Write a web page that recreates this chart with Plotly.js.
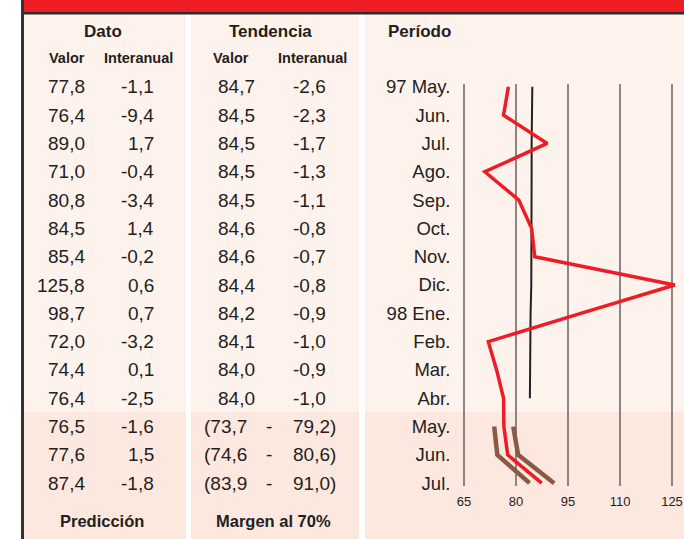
<!DOCTYPE html>
<html>
<head>
<meta charset="utf-8">
<script src="https://cdn.plot.ly/plotly-3.0.1.min.js"></script>
<style>
  html, body { margin: 0; padding: 0; background: #fff; }
  #chart { width: 684px; height: 539px; }
</style>
</head>
<body>
<div id="chart"></div>
<script>
'use strict';

const periods = ['97 May.', 'Jun.', 'Jul.', 'Ago.', 'Sep.', 'Oct.', 'Nov.', 'Dic.',
    '98 Ene.', 'Feb.', 'Mar.', 'Abr.', 'May.', 'Jun.', 'Jul.'];
const datoValor = [77.8, 76.4, 89.0, 71.0, 80.8, 84.5, 85.4, 125.8, 98.7, 72.0, 74.4, 76.4, 76.5, 77.6, 87.4];
const datoInter = [-1.1, -9.4, 1.7, -0.4, -3.4, 1.4, -0.2, 0.6, 0.7, -3.2, 0.1, -2.5, -1.6, 1.5, -1.8];
const tendValor = [84.7, 84.5, 84.5, 84.5, 84.5, 84.6, 84.6, 84.4, 84.2, 84.1, 84.0, 84.0];
const tendInter = [-2.6, -2.3, -1.7, -1.3, -1.1, -0.8, -0.7, -0.8, -0.9, -1.0, -0.9, -1.0];
const margenLow = [73.7, 74.6, 83.9];
const margenHigh = [79.2, 80.6, 91.0];
const xTicks = [65, 80, 95, 110, 125];

const W = 684, H = 539;
const FONT = 'Liberation Sans, Arial, Helvetica, sans-serif';
const INK = '#231f20';

// pixel helpers for paper coords (margins are 0)
const px = v => v / W;
const py = v => 1 - v / H;
const fmt = v => v.toFixed(1).replace('.', ',');

const rows = periods.map((p, i) => i);
const predStart = tendValor.length;
const predRows = margenLow.map((v, i) => predStart + i);

const tendTrace = {
    x: tendValor,
    y: rows.slice(0, tendValor.length),
    type: 'scatter',
    mode: 'lines',
    line: { color: INK, width: 2 },
    hoverinfo: 'skip'
};

const lowTrace = {
    x: margenLow,
    y: predRows,
    type: 'scatter',
    mode: 'lines',
    line: { color: '#8a5a45', width: 4.5 },
    hoverinfo: 'skip'
};

const highTrace = {
    x: margenHigh,
    y: predRows,
    type: 'scatter',
    mode: 'lines',
    line: { color: '#8a5a45', width: 4.5 },
    hoverinfo: 'skip'
};

const datoTrace = {
    x: datoValor,
    y: rows,
    type: 'scatter',
    mode: 'lines',
    line: { color: '#ee1c25', width: 3.5 },
    hoverinfo: 'skip'
};

// background panels
const upperBg = '#fef2ed';
const lowerBg = '#fde8e0';
const panels = [[24, 186], [191, 359], [365, 684]];
const shapes = [];
panels.forEach(p => {
    shapes.push({ type: 'rect', xref: 'paper', yref: 'paper', layer: 'below', line: { width: 0 },
        x0: px(p[0]), x1: px(p[1]), y0: py(14), y1: py(412), fillcolor: upperBg });
    shapes.push({ type: 'rect', xref: 'paper', yref: 'paper', layer: 'below', line: { width: 0 },
        x0: px(p[0]), x1: px(p[1]), y0: py(412), y1: py(H), fillcolor: lowerBg });
});
shapes.push({ type: 'rect', xref: 'paper', yref: 'paper', layer: 'below', line: { width: 0 },
    x0: px(22), x1: px(W), y0: py(0), y1: py(12), fillcolor: '#ee1c25' });
shapes.push({ type: 'rect', xref: 'paper', yref: 'paper', layer: 'below', line: { width: 0 },
    x0: px(21), x1: px(W), y0: py(12), y1: py(14.5), fillcolor: '#2b2b2b' });
shapes.push({ type: 'rect', xref: 'paper', yref: 'paper', layer: 'below', line: { width: 0 },
    x0: px(21), x1: px(24), y0: py(0), y1: py(H), fillcolor: '#333333' });

const annotations = [];
function addText(text, x, y, opts) {
    annotations.push(Object.assign({
        text: text, x: x, y: y, xref: 'paper', yref: 'y',
        xanchor: 'right', yanchor: 'middle', showarrow: false,
        font: { family: FONT, size: 19, color: INK }
    }, opts || {}));
}

// table rows
rows.forEach(i => {
    addText(fmt(datoValor[i]), px(86.5), i);
    addText(fmt(datoInter[i]), px(156), i);
});
tendValor.forEach((v, i) => {
    addText(fmt(v), px(257), i);
    addText(fmt(tendInter[i]), px(327.5), i);
});
predRows.forEach((r, i) => {
    addText('(' + fmt(margenLow[i]), px(248.5), r);
    addText('-', px(269), r, { xanchor: 'center' });
    addText(fmt(margenHigh[i]) + ')', px(338), r);
});

// headers
function addHead(text, x, y, size, anchor) {
    annotations.push({
        text: '<b>' + text + '</b>', x: px(x), y: py(y), xref: 'paper', yref: 'paper',
        xanchor: anchor || 'center', yanchor: 'middle', showarrow: false,
        font: { family: FONT, size: size, color: INK }
    });
}
addHead('Dato', 103, 31, 17);
addHead('Tendencia', 270, 31, 17);
addHead('Período', 386, 31, 17, 'left');
addHead('Valor', 67, 58, 14.5);
addHead('Interanual', 138, 58, 14.5);
addHead('Valor', 231, 58, 14.5);
addHead('Interanual', 312, 58, 14.5);
addHead('Predicción', 102, 521, 16.5);
addHead('Margen al 70%', 273, 521, 16.5);

const layout = {
    width: W,
    height: H,
    margin: { l: 0, r: 0, t: 0, b: 0, pad: 0 },
    paper_bgcolor: '#ffffff',
    plot_bgcolor: 'rgba(0,0,0,0)',
    showlegend: false,
    xaxis: {
        domain: [px(457.1), px(682.4)],
        range: [63, 128],
        tickvals: xTicks,
        ticktext: xTicks.map(String),
        showgrid: true,
        gridcolor: '#8c8480',
        gridwidth: 1.3,
        zeroline: false,
        showline: false,
        ticks: 'outside',
        ticklen: 3,
        tickcolor: 'rgba(0,0,0,0)',
        tickfont: { family: FONT, size: 13, color: INK },
        fixedrange: true
    },
    yaxis: {
        domain: [py(486), py(84)],
        range: [14.1, -0.1],
        tickvals: rows,
        ticktext: periods,
        showgrid: false,
        zeroline: false,
        showline: false,
        ticks: 'outside',
        ticklen: 2,
        tickcolor: 'rgba(0,0,0,0)',
        tickfont: { family: FONT, size: 18.5, color: INK },
        fixedrange: true
    },
    shapes: shapes,
    annotations: annotations
};

Plotly.newPlot('chart', [tendTrace, lowTrace, highTrace, datoTrace], layout, { staticPlot: true });
</script>
</body>
</html>
